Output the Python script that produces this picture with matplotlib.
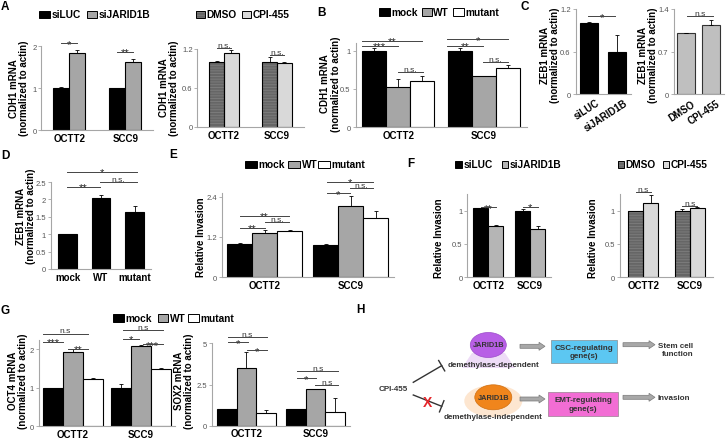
import numpy as np
import matplotlib
matplotlib.use('Agg')
import matplotlib.pyplot as plt
import matplotlib.patches as mpatches
from matplotlib.transforms import offset_copy

plt.rcParams['font.family'] = ['Liberation Sans', 'DejaVu Sans']
plt.rcParams['hatch.linewidth'] = 0.6

W, H = 727, 439

# ---------------- data ----------------
cells = ['OCTT2', 'SCC9']

# A
a1_siLUC = [1.00, 1.00]; a1_siLUC_err = [0.02, 0.0]
a1_siJARID1B = [1.83, 1.63]; a1_siJARID1B_err = [0.08, 0.05]
a2_DMSO = [1.00, 1.00]; a2_DMSO_err = [0.01, 0.07]
a2_CPI = [1.14, 0.985]; a2_CPI_err = [0.05, 0.02]
# B
b_mock = [1.00, 1.00]; b_mock_err = [0.03, 0.03]
b_WT = [0.52, 0.665]; b_WT_err = [0.11, 0.01]
b_mut = [0.60, 0.775]; b_mut_err = [0.07, 0.04]
# C
c1_labels = ['siLUC', 'siJARID1B']; c1_vals = [1.0, 0.6]; c1_err = [0.02, 0.24]
c2_labels = ['DMSO', 'CPI-455']; c2_vals = [1.0, 1.14]; c2_err = [0.01, 0.08]
# D
d_labels = ['mock', 'WT', 'mutant']; d_vals = [1.0, 2.05, 1.64]; d_err = [0.02, 0.07, 0.17]
# E
e_mock = [1.0, 0.97]; e_mock_err = [0.02, 0.02]
e_WT = [1.32, 2.11]; e_WT_err = [0.09, 0.32]
e_mut = [1.39, 1.76]; e_mut_err = [0.02, 0.22]
# F
f1_siLUC = [1.04, 1.0]; f1_siLUC_err = [0.0, 0.02]
f1_siJARID1B = [0.765, 0.72]; f1_siJARID1B_err = [0.02, 0.05]
f2_DMSO = [0.99, 0.99]; f2_DMSO_err = [0.01, 0.03]
f2_CPI = [1.11, 1.035]; f2_CPI_err = [0.12, 0.02]
# G
g1_mock = [1.0, 1.0]; g1_mock_err = [0.0, 0.1]
g1_WT = [1.93, 2.09]; g1_WT_err = [0.08, 0.01]
g1_mut = [1.22, 1.50]; g1_mut_err = [0.03, 0.01]
g2_mock = [1.0, 1.0]; g2_mock_err = [0.0, 0.03]
g2_WT = [3.48, 2.22]; g2_WT_err = [1.0, 0.03]
g2_mut = [0.75, 0.81]; g2_mut_err = [0.22, 0.85]

BLACK = '#000000'
GRAY = '#A6A6A6'
LGRAY = '#B5B5B5'
DARK = '#666666'
PALE = '#D9D9D9'
WHITE = '#FFFFFF'
HATCH = '#7e7e7e'

fig = plt.figure(figsize=(W / 100, H / 100), dpi=100)


def add_ax(l, t, r, b):
    return fig.add_axes([l / W, 1 - b / H, (r - l) / W, (b - t) / H])


def style(ax, ylim, yticks, ylabels, xlabels=None):
    ax.set_ylim(*ylim)
    ax.set_yticks(yticks)
    ax.set_yticklabels(ylabels)
    for s in ['top', 'right']:
        ax.spines[s].set_visible(False)
    for s in ['left', 'bottom']:
        ax.spines[s].set_color('#a6a6a6')
        ax.spines[s].set_linewidth(0.8)
    ax.tick_params(axis='y', length=2, width=0.6, color='#a6a6a6',
                   labelsize=5.5, labelcolor='#555555', pad=1.5)
    ax.tick_params(axis='x', length=0, labelsize=7, pad=2)
    if xlabels is not None:
        ax.set_xticks(range(len(xlabels)))
        ax.set_xticklabels(xlabels, fontweight='bold')
    else:
        ax.set_xticks([])
    ax.patch.set_alpha(0)


def bars(ax, series, errs, colors, bw, ncat, hatched=(), edge='k'):
    n = len(series)
    x = np.arange(ncat)
    for i, (vals, err, col) in enumerate(zip(series, errs, colors)):
        xi = x + (i - (n - 1) / 2) * bw
        if i in hatched:
            ax.bar(xi, vals, bw, color=col, edgecolor=HATCH, hatch='------',
                   linewidth=0, zorder=2)
            ax.bar(xi, vals, bw, fill=False, edgecolor=edge, linewidth=0.8, zorder=3)
        else:
            ax.bar(xi, vals, bw, color=col, edgecolor=edge, linewidth=0.8, zorder=2)
        ax.errorbar(xi, vals, yerr=[np.zeros(len(vals)), err], fmt='none',
                    ecolor='k', elinewidth=0.6, capsize=1.4, capthick=0.6, zorder=4)
    ax.set_xlim(-0.5, ncat - 0.5)


def sig(ax, x0, x1, y, txt):
    ax.plot([x0, x1], [y, y], color='#444444', lw=0.7, clip_on=False, zorder=5)
    if '*' in txt:
        ax.annotate(txt, ((x0 + x1) / 2, y), xytext=(0, -2.6), textcoords='offset points',
                    ha='center', va='baseline', fontsize=8, color='#222222',
                    annotation_clip=False)
    else:
        ax.annotate(txt, ((x0 + x1) / 2, y), xytext=(0, 0.8), textcoords='offset points',
                    ha='center', va='baseline', fontsize=6, color='#333333',
                    annotation_clip=False)


# ---- A left
axA1 = add_ax(41.3, 47, 153.3, 131)
bars(axA1, [a1_siLUC, a1_siJARID1B], [a1_siLUC_err, a1_siJARID1B_err], [BLACK, GRAY], 0.286, 2)
style(axA1, (0, 2), [0, 1, 2], ['0', '1', '2'], cells)
sig(axA1, -0.143, 0.143, 2.06, '*')
sig(axA1, 0.857, 1.143, 1.86, '**')

# ---- A right
axA2 = add_ax(197.5, 50, 303.5, 128)
bars(axA2, [a2_DMSO, a2_CPI], [a2_DMSO_err, a2_CPI_err], [DARK, PALE], 0.283, 2, hatched=(0,))
style(axA2, (0, 1.2), [0, 0.6, 1.2], ['0', '0.6', '1.2'], cells)
sig(axA2, -0.14, 0.14, 1.215, 'n.s.')
sig(axA2, 0.86, 1.14, 1.11, 'n.s.')

# ---- B
axB = add_ax(355.5, 44, 527, 128.3)
bars(axB, [b_mock, b_WT, b_mut], [b_mock_err, b_WT_err, b_mut_err], [BLACK, GRAY, WHITE], 0.28, 2)
style(axB, (0, 1.1), [0, 0.5, 1], ['0', '0.5', '1'], cells)
for a in [(-0.428, 0.272, 1.13, '**'), (-0.428, -0.008, 1.065, '***'), (0.0, 0.284, 0.72, 'n.s.'),
          (0.571, 1.282, 1.15, '*'), (0.571, 0.99, 1.065, '**'), (0.99, 1.28, 0.85, 'n.s.')]:
    sig(axB, *a)

# ---- C left
axC1 = add_ax(575.5, 10, 630.5, 95)
bars(axC1, [c1_vals], [c1_err], [BLACK], 0.67, 2)
style(axC1, (0, 1.2), [0, 0.6, 1.2], ['0', '0.6', '1.2'])
sig(axC1, -0.045, 0.936, 1.10, '*')
tr = offset_copy(axC1.get_xaxis_transform(), fig=fig, x=7, y=-3, units='dots')
for i, lab in enumerate(c1_labels):
    axC1.text(i, 0, lab, transform=tr, rotation=33, ha='right', va='top',
              rotation_mode='anchor', fontweight='bold', fontsize=7)

# ---- C right
axC2 = add_ax(673.5, 10, 723.5, 95)
bars(axC2, [c2_vals], [c2_err], ['#BFBFBF'], 0.72, 2, edge='#333333')
style(axC2, (0, 1.4), [0, 0.7, 1.4], ['0', '0.7', '1.4'])
sig(axC2, 0.04, 1.08, 1.285, 'n.s')
tr = offset_copy(axC2.get_xaxis_transform(), fig=fig, x=5, y=-4, units='dots')
for i, lab in enumerate(c2_labels):
    axC2.text(i, 0, lab, transform=tr, rotation=33, ha='right', va='top',
              rotation_mode='anchor', fontweight='bold', fontsize=7)

# ---- D
axD = add_ax(50.75, 183, 151.25, 270)
bars(axD, [d_vals], [d_err], [BLACK], 0.567, 3)
style(axD, (0, 2.5), [0, 0.5, 1, 1.5, 2, 2.5], ['0', '0.5', '1', '1.5', '2', '2.5'], d_labels)
for a in [(-0.015, 2.07, 2.8, '*'), (-0.015, 0.97, 2.36, '**'), (0.97, 2.07, 2.49, 'n.s.')]:
    sig(axD, *a)

# ---- E
axE = add_ax(221.7, 194.3, 393.7, 278.3)
bars(axE, [e_mock, e_WT, e_mut], [e_mock_err, e_WT_err, e_mut_err], [BLACK, GRAY, WHITE], 0.29, 2)
style(axE, (0, 2.5), [0, 1.2, 2.4], ['0', '1.2', '2.4'], cells)
for a in [(-0.287, 0.283, 1.83, '**'), (-0.287, 0.003, 1.47, '**'), (0.003, 0.283, 1.65, 'n.s.'),
          (0.72, 1.26, 2.84, '*'), (0.72, 0.99, 2.5, '*'), (0.99, 1.26, 2.66, 'n.s.')]:
    sig(axE, *a)

# ---- F left
axF1 = add_ax(467.4, 195, 551, 278.3)
bars(axF1, [f1_siLUC, f1_siJARID1B], [f1_siLUC_err, f1_siJARID1B_err], [BLACK, LGRAY], 0.36, 2)
style(axF1, (0, 1.25), [0, 0.5, 1], ['0', '0.5', '1'], cells)
sig(axF1, -0.18, 0.18, 1.05, '**')
sig(axF1, 0.82, 1.18, 1.06, '*')

# ---- F right
axF2 = add_ax(620, 195, 713, 278.3)
bars(axF2, [f2_DMSO, f2_CPI], [f2_DMSO_err, f2_CPI_err], [DARK, PALE], 0.32, 2, hatched=(0,))
style(axF2, (0, 1.25), [0, 0.5, 1], ['0', '0.5', '1'], cells)
sig(axF2, -0.16, 0.16, 1.275, 'n.s')
sig(axF2, 0.84, 1.16, 1.07, 'n.s')

# ---- G left
axG1 = add_ax(38.5, 340.7, 175, 427.3)
bars(axG1, [g1_mock, g1_WT, g1_mut], [g1_mock_err, g1_WT_err, g1_mut_err], [BLACK, GRAY, WHITE], 0.293, 2)
style(axG1, (0, 2.25), [0, 1, 2], ['0', '1', '2'], cells)
for a in [(-0.434, 0.225, 2.41, 'n.s'), (-0.434, -0.137, 2.2, '***'), (-0.068, 0.225, 2.02, '**'),
          (0.737, 1.318, 2.5, 'n.s'), (0.737, 0.97, 2.28, '*'), (1.03, 1.318, 2.13, '***')]:
    sig(axG1, *a)

# ---- G right
axG2 = add_ax(211.8, 344.3, 350, 426.7)
bars(axG2, [g2_mock, g2_WT, g2_mut], [g2_mock_err, g2_WT_err, g2_mut_err], [BLACK, GRAY, WHITE], 0.285, 2)
style(axG2, (0, 5), [0, 2.5, 5], ['0', '2.5', '5'], cells)
for a in [(-0.27, 0.296, 5.4, 'n.s'), (-0.27, 0.02, 5.06, '*'), (0.006, 0.296, 4.59, '*'),
          (0.73, 1.33, 3.3, 'n.s'), (0.73, 1.01, 2.88, '*'), (0.996, 1.33, 2.47, 'n.s')]:
    sig(axG2, *a)

# ---------------- overlay (pixel coordinates) ----------------
ov = fig.add_axes([0, 0, 1, 1])
ov.set_xlim(0, W)
ov.set_ylim(H, 0)
ov.axis('off')
ov.patch.set_alpha(0)

for lab, x, y in [('A', 5, 7), ('B', 321, 12.5), ('C', 525, 6.5), ('D', 5, 156),
                  ('E', 173.5, 155.5), ('F', 411, 164), ('G', 5.5, 311.5), ('H', 360.5, 310)]:
    ov.text(x, y, lab, fontsize=8.5, fontweight='bold', ha='center', va='center')

ylab2 = lambda g: g + ' mRNA\n(normalized to actin)'
for txt, x, y in [(ylab2('CDH1'), 19, 88.5), (ylab2('CDH1'), 169, 88), (ylab2('CDH1'), 330.5, 84),
                  (ylab2('ZEB1'), 550, 55), (ylab2('ZEB1'), 648, 55), (ylab2('ZEB1'), 26, 216),
                  ('Relative Invasion', 201, 236.7), ('Relative Invasion', 438.5, 238),
                  ('Relative Invasion', 593.5, 238),
                  (ylab2('OCT4'), 18, 381), (ylab2('SOX2'), 184, 381)]:
    ov.text(x, y, txt, rotation=90, ha='center', va='center', fontsize=7,
            fontweight='bold', linespacing=1.1)


def legend(items, yc, h):
    for x0, w, col, lab, hat in items:
        if hat:
            ov.add_patch(mpatches.Rectangle((x0, yc - h / 2), w, h, fc=col, ec=HATCH,
                                            hatch='------', lw=0))
            ov.add_patch(mpatches.Rectangle((x0, yc - h / 2), w, h, fill=False, ec='k', lw=0.7))
        else:
            ov.add_patch(mpatches.Rectangle((x0, yc - h / 2), w, h, fc=col, ec='k', lw=0.7))
        ov.text(x0 + w + 1.5, yc, lab, ha='left', va='center', fontsize=7.3, fontweight='bold')


legend([(39, 11, BLACK, 'siLUC', 0), (87, 10, GRAY, 'siJARID1B', 0)], 15.5, 7.5)
legend([(196, 9, DARK, 'DMSO', 1), (241.7, 9.3, PALE, 'CPI-455', 0)], 15, 7)
legend([(379.3, 10.7, BLACK, 'mock', 0), (422, 9.7, GRAY, 'WT', 0), (453.3, 10.7, WHITE, 'mutant', 0)], 13.3, 8)
legend([(245, 12.3, BLACK, 'mock', 0), (288.3, 11.7, GRAY, 'WT', 0), (318.3, 11.7, WHITE, 'mutant', 0)], 165.5, 7.6)
legend([(455, 7, BLACK, 'siLUC', 0), (501.7, 6.6, LGRAY, 'siJARID1B', 0)], 165, 7)
legend([(618.3, 6, DARK, 'DMSO', 1), (663.3, 6, PALE, 'CPI-455', 0)], 165, 7)
legend([(113.3, 10.7, BLACK, 'mock', 0), (158, 10, GRAY, 'WT', 0), (188, 11, WHITE, 'mutant', 0)], 319, 8.3)

# ---------------- panel H diagram ----------------
TXT = '#333333'
# glows
ov.add_patch(mpatches.Polygon([(472, 354), (505, 354), (515, 369), (462, 369)],
                              closed=True, fc='#EEDCF7', ec='none'))
ov.add_patch(mpatches.Ellipse((493.3, 402), 58, 32, fc='#FDE6D0', ec='none'))
# ellipses
ov.add_patch(mpatches.Ellipse((488.3, 346), 36, 25, fc='#B85FE6', ec='#9b4cc8', lw=0.5))
ov.add_patch(mpatches.Ellipse((493.3, 398.3), 37, 25, fc='#F0851C', ec='#d06f10', lw=0.5))
ov.text(488.3, 346, 'JARID1B', ha='center', va='center', fontsize=5.3, fontweight='bold', color=TXT)
ov.text(493.3, 398.3, 'JARID1B', ha='center', va='center', fontsize=5.3, fontweight='bold', color=TXT)
ov.text(493.3, 365.3, 'demethylase-dependent', ha='center', va='center', fontsize=5.8,
        fontweight='bold', color=TXT)
ov.text(493.3, 417.7, 'demethylase-independent', ha='center', va='center', fontsize=5.8,
        fontweight='bold', color=TXT)

# block arrows
for x0, x1, y in [(520, 545, 347.3), (623, 655, 345.7), (520, 545, 400), (623, 655, 398.3)]:
    ov.add_patch(mpatches.FancyArrow(x0, y, x1 - x0, 0, width=4, head_width=8, head_length=6,
                                     length_includes_head=True, fc='#A8A8A8', ec='#7a7a7a', lw=0.5))

# boxes
ov.add_patch(mpatches.Rectangle((550.7, 340.7), 66, 23.3, fc='#5CC7F2', ec='#8a9ca4', lw=0.6))
ov.text(583.7, 352.3, 'CSC-regulating\ngene(s)', ha='center', va='center', fontsize=5.8,
        fontweight='bold', color=TXT, linespacing=1.3)
ov.add_patch(mpatches.Rectangle((548.3, 392.7), 70, 24.6, fc='#F26DD4', ec='#a98aa0', lw=0.6))
ov.text(583.3, 405, 'EMT-regulating\ngene(s)', ha='center', va='center', fontsize=5.8,
        fontweight='bold', color=TXT, linespacing=1.3)
ov.text(693, 350.5, 'Stem cell\nfunction', ha='right', va='center', fontsize=5.8,
        fontweight='bold', color=TXT, linespacing=1.3)
ov.text(658, 398.3, 'Invasion', ha='left', va='center', fontsize=5.8, fontweight='bold', color=TXT)

# CPI-455 and inhibition lines
ov.text(393.3, 390, 'CPI-455', ha='center', va='center', fontsize=5.8, fontweight='bold', color=TXT)
for (xa, ya), (xb, yb) in [((413.3, 383.3), (441.7, 366.7)), ((413.3, 396), (441.7, 407.3))]:
    ov.plot([xa, xb], [ya, yb], color='#333333', lw=1.0)
    d = np.array([xb - xa, yb - ya]); d = d / np.hypot(*d)
    p = np.array([-d[1], d[0]]) * 6
    ov.plot([xb - p[0], xb + p[0]], [yb - p[1], yb + p[1]], color='#333333', lw=1.0)
ov.text(427.3, 403.3, 'X', ha='center', va='center', fontsize=10, fontweight='bold', color='#E5262B')

fig.savefig('out.png', dpi=100)
